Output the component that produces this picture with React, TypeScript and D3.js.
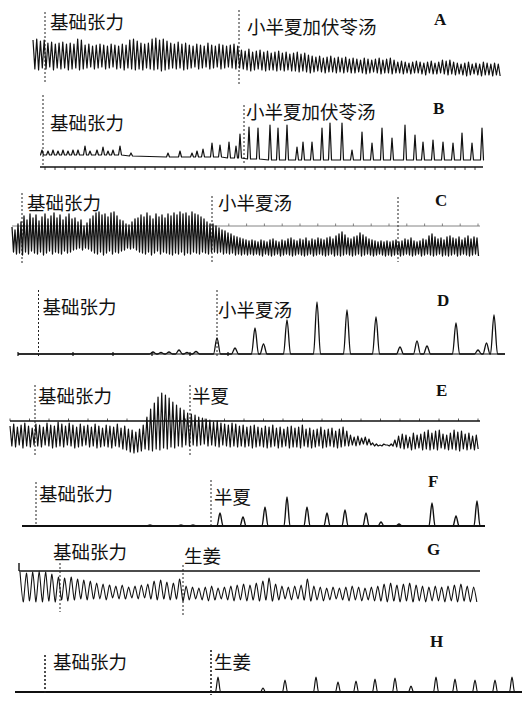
import React, { useEffect, useRef } from 'react';
import * as d3 from 'd3';

const W = 530;
const H = 701;

// time axis: 1 unit = 10 px of chart paper
// tension values: 1 unit = 1 px above each panel's zero line

// A: 小半夏加伏苓汤 (per-cycle peak / trough)
const aTop = [40, 41, 39, 40, 37, 38, 36, 37, 38, 36, 37, 36, 41, 40, 35, 36, 34, 35, 36, 35, 34, 36, 35, 34, 36, 35,
  40, 41, 39, 37, 36, 37, 41, 42, 40, 41, 39, 37, 36, 38, 36, 37, 35, 34, 36, 35, 34, 37, 35, 34, 36, 35, 34, 35, 36, 34,
  30, 29, 31, 28, 29, 30, 28, 29, 27, 28, 29, 27, 28, 26,
  27, 28, 26, 27, 25, 24, 23, 24, 22, 23, 24, 22, 23, 22,
  23, 21, 22, 21, 20, 22, 21, 20, 21, 22, 20, 21, 22, 20,
  18, 19, 18, 17, 18, 19, 18, 17, 18, 19, 17, 18, 20, 19,
  20, 18, 17, 16, 17, 18, 16, 17, 16, 18, 17, 16, 17, 16];
const aBot = [11, 10, 12, 11, 13, 10, 12, 11, 12, 10, 11, 12, 10, 11,
  12, 13, 11, 12, 13, 11, 12, 13, 11, 12, 10, 12, 11, 10,
  11, 10, 12, 11, 10, 11, 9, 10, 11, 12, 11, 12, 10, 11,
  12, 13, 11, 12, 13, 11, 12, 13, 11, 12, 13, 12, 11, 12,
  11, 10, 9, 10, 11, 10, 9, 10, 10, 9, 10, 9, 10, 9,
  9, 8, 9, 8, 7, 8, 9, 8, 7, 8, 8, 7, 8, 7,
  8, 7, 7, 8, 7, 6, 7, 8, 7, 6, 7, 7, 6, 7,
  7, 6, 7, 6, 7, 7, 6, 5, 7, 6, 6, 7, 6, 5,
  6, 5, 6, 5, 4, 5, 6, 5, 4, 5, 5, 4, 5, 4];
const aSpan = [3.3, 50.2];
const aMarks = [4.5, 23.9];
const aLabels = ['基础张力', '小半夏加伏苓汤'];

// B: spikes (time, peak, local baseline)
const bTimes = [4.2, 4.8, 5.3, 5.8, 6.3, 6.8, 7.3, 7.8, 8.5, 9.0, 9.7, 10.3, 10.8, 11.3, 12.0, 13.1,
  16.8, 18.0, 19.2, 19.7, 20.3, 21.2, 22.0, 22.9, 23.6, 24.0, 24.9, 25.8,
  27.0, 27.8, 28.7, 29.7, 30.3, 31.2, 32.2, 33.0, 34.2, 35.2, 36.2, 37.2, 38.2, 39.2,
  40.5, 41.5, 42.3, 43.3, 44.3, 45.3, 46.2, 47.2, 48.2];
const bPeaks = [17, 16, 17, 16, 17, 16, 17, 17, 21, 16, 17, 20, 16, 17, 21, 14,
  14, 16, 14, 16, 18, 24, 22, 25, 21, 33, 40, 39,
  42, 39, 42, 20, 25, 25, 39, 44, 44, 17, 35, 24, 39, 29,
  42, 32, 25, 27, 25, 24, 34, 24, 39];
const bBase = [12, 12, 12, 12, 12, 12, 12, 12, 12, 12, 12, 12, 12, 12, 12, 11,
  10, 10, 10, 10, 10, 10, 10, 9, 9, 9, 8, 8,
  7, 7, 7, 7, 7, 7, 7, 7, 7, 7, 7, 7, 7, 7,
  7, 7, 7, 7, 7, 7, 7, 7, 7];
const bSpan = [4.0, 48.3];
const bMarks = [4.3, 24.4];
const bLabels = ['基础张力', '小半夏加伏苓汤'];

// C: 小半夏汤
const cTop = [33, 30, 36, 38, 44, 40, 46, 42, 45, 39, 43, 46, 41, 44, 47, 42, 45, 40, 43, 46, 41,
  42, 38, 40, 34, 37, 41, 44, 47, 48, 45, 46, 43, 47, 48, 44, 40, 39, 36, 35, 38, 41, 42,
  45, 43, 47, 44, 41, 46, 43, 45, 42, 46, 44, 47, 45, 48, 46, 47, 44, 48, 46, 45, 43, 41, 38, 36,
  36, 34, 32, 30, 29, 27, 26, 24, 23, 22, 21, 20, 19, 20,
  19, 18, 20, 19, 18, 20, 21, 19, 18, 20, 19, 21, 22, 20, 19,
  21, 20, 22, 19, 21, 20, 22, 21, 20, 22, 23, 21, 24, 26, 28,
  25, 22, 21, 23, 24, 27, 25, 23, 21, 20, 19, 18, 19, 18, 19,
  18, 19, 20, 18, 19, 21, 20, 22, 19, 18, 19, 21, 20, 24, 26,
  23, 21, 22, 20, 23, 24, 22, 21, 23, 20, 22, 24, 21, 23, 22];
const cBot = [8, 6, 7, 5, 8, 6, 9, 7, 6, 8, 5, 7, 9, 6, 8, 7, 6,
  9, 7, 8, 10, 11, 12, 10, 12, 11, 9, 7, 6, 8, 5, 7, 9, 6,
  8, 7, 9, 10, 12, 11, 12, 10, 8, 7, 6, 8, 5, 7, 9, 6, 8,
  7, 6, 5, 7, 6, 8, 5, 7, 6, 8, 7, 6, 8, 7, 6, 8,
  8, 7, 8, 6, 7, 6, 7, 5, 6, 5, 6, 5, 6, 5,
  6, 5, 4, 6, 5, 4, 5, 6, 4, 5, 6, 5, 4, 5, 6,
  5, 4, 5, 6, 4, 5, 6, 5, 4, 5, 6, 4, 5, 4, 5,
  6, 5, 4, 5, 6, 4, 5, 6, 5, 4, 5, 6, 5, 4, 5,
  4, 5, 6, 4, 5, 6, 5, 4, 5, 6, 4, 5, 6, 5, 4,
  5, 6, 4, 5, 4, 5, 6, 4, 5, 6, 5, 4, 5, 6, 4];
const cSpan = [1.2, 48.0];
const cMarks = [2.2, 21.2, 39.8];
const cLabels = ['基础张力', '小半夏汤'];

// D: broad contractions
const dTimes = [15.3, 16.1, 16.9, 17.9, 18.7, 19.6, 21.7, 23.5, 25.5, 26.35, 28.7, 31.7, 34.7, 37.6,
  40.0, 41.7, 42.7, 45.6, 47.8, 48.65, 49.4];
const dPeaks = [2, 1.5, 2, 4, 1.5, 2.5, 16, 6, 26, 10, 34, 52, 44, 37, 7, 13, 8, 31, 4, 11, 39];
const dSpan = [1.8, 50.5];
const dTicks = [1.8, 7.3, 11.3, 15.2, 19.0, 22.8];
const dMarks = [3.85, 21.7];
const dLabels = ['基础张力', '小半夏汤'];

// E: 半夏
const eTop = [29, 31, 28, 30, 32, 29, 27, 31, 30, 28, 32, 30, 29,
  33, 31, 29, 32, 30, 28, 31, 29, 30, 28, 31, 29, 27,
  30, 29, 28, 31, 27, 29, 26, 25, 23,
  26, 30, 38, 46, 52, 58, 62, 60, 57, 53, 50, 47, 45, 42,
  41, 40, 38, 37, 36, 35, 33, 34, 32, 31, 30, 32, 31, 29,
  30, 28, 29, 30, 28, 27, 29, 28, 30, 27, 28, 26, 28, 29,
  27, 28, 30, 26, 27, 25, 26, 28, 25, 26, 27, 24, 26, 28,
  24, 20, 18, 19, 17, 18, 16, 12, 11, 10, 11, 10, 11, 15,
  19, 21, 20, 18, 22, 20, 21, 23, 25, 22, 24, 25, 21, 20,
  22, 25, 23, 24, 21, 22, 19, 20];
const eBot = [9, 8, 10, 7, 9, 8, 10, 9, 8, 10, 9, 7, 8,
  9, 8, 10, 9, 7, 8, 9, 10, 8, 9, 7, 8, 9,
  8, 7, 9, 8, 6, 5, 3, 2, 3,
  4, 6, 5, 4, 6, 5, 7, 6, 8, 7, 9, 8, 10, 9,
  10, 9, 10, 11, 9, 10, 9, 8, 10, 9, 8, 9, 8, 9,
  8, 9, 7, 8, 9, 8, 7, 8, 9, 7, 8, 9, 7, 8,
  8, 7, 9, 8, 7, 8, 9, 7, 8, 9, 8, 7, 8, 9,
  9, 10, 9, 10, 11, 10, 10, 9, 9, 9, 10, 9, 9, 8,
  7, 6, 7, 5, 6, 7, 5, 6, 5, 6, 5, 7, 6, 5,
  6, 5, 4, 6, 5, 6, 5, 6];
const eSpan = [1.0, 48.0];
const eMarks = [3.5, 19.0];
const eLabels = ['基础张力', '半夏'];

// F: 半夏
const fTimes = [15.0, 18.1, 19.3, 22.0, 24.3, 26.5, 28.7, 30.7, 32.7, 34.5, 36.6, 38.1, 39.9, 43.2, 45.6, 47.7];
const fPeaks = [1, 1, 1, 13, 9, 19, 29, 19, 13, 16, 13, 4, 2, 23, 10, 25];
const fSpan = [2.2, 48.5];
const fMarks = [3.6, 21.1];
const fLabels = ['基础张力', '半夏'];

// G: 生姜
const gTop = [33, 32, 33, 34, 33, 31, 28, 27, 28, 26, 25, 24, 22, 21, 20, 19, 20, 18,
  19, 20, 21, 24, 25, 23, 22, 26,
  19, 18, 17, 18, 19, 17, 18, 19, 20, 21,
  20, 22, 24, 27, 21, 19, 18, 19, 20, 26,
  19, 18, 17, 18, 17, 18, 19, 18, 17, 18,
  19, 21, 22, 20, 21, 22, 20, 19, 18, 19,
  18, 19, 20, 21, 19, 18];
const gBot = [3, 4, 3, 3, 4, 3, 5, 4, 5, 6, 5, 6, 6, 5, 7, 6, 6, 7,
  6, 7, 6, 5, 6, 5, 6, 4,
  5, 6, 5, 4, 5, 6, 5, 4, 5, 4,
  5, 4, 5, 4, 5, 6, 5, 6, 5, 4,
  5, 4, 5, 6, 5, 4, 5, 4, 5, 4,
  4, 3, 4, 3, 4, 3, 4, 3, 4, 4,
  3, 4, 3, 4, 3, 3];
const gSpan = [2.0, 48.0];
const gMarks = [6.0, 18.3];
const gLabels = ['基础张力', '生姜'];

// H: 生姜
const hTimes = [21.8, 26.3, 28.5, 31.6, 33.8, 35.6, 37.5, 39.5, 41.1, 43.6, 45.5, 47.5, 49.5, 51.2];
const hPeaks = [15, 4, 12, 15, 10, 11, 13, 14, 6, 15, 13, 12, 12, 15];
const hSpan = [1.5, 52.2];
const hMarks = [4.5, 21.1];
const hLabels = ['基础张力', '生姜'];

const panelLetters = ['A', 'B', 'C', 'D', 'E', 'F', 'G', 'H'];

const App = () => {
  const svgRef = useRef<SVGSVGElement>(null);

  useEffect(() => {
    const svg = d3.select(svgRef.current);
    svg.selectAll('*').remove();
    svg.append('rect').attr('width', W).attr('height', H).attr('fill', '#fff');

    const x = d3.scaleLinear().domain([0, 53]).range([0, W]);
    const yAt = (zero: number) => d3.scaleLinear().domain([0, 100]).range([zero, zero - 100]);

    const oscPoints = (top: number[], bot: number[], span: number[]) => {
      const dt = (span[1] - span[0]) / top.length;
      const pts: [number, number][] = [];
      top.forEach((v, i) => {
        pts.push([span[0] + i * dt, v]);
        pts.push([span[0] + (i + 0.5) * dt, bot[i]]);
      });
      return pts;
    };

    const spikePoints = (times: number[], peaks: number[], base: number[] | number, span: number[], w: number) => {
      const b = (i: number) => (Array.isArray(base) ? base[i] : base);
      const pts: [number, number][] = [[span[0], b(0)]];
      times.forEach((t, i) => {
        pts.push([t - w, b(i)], [t, peaks[i]], [t + w, b(i)]);
      });
      pts.push([span[1], b(times.length - 1)]);
      return pts;
    };

    const panels = [
      { zero: 80, pts: oscPoints(aTop, aBot, aSpan), curve: d3.curveLinear, sw: 1.2,
        marks: aMarks, markY: [[12, 84], [10, 84]], labels: aLabels, labelDx: [5, 8], labelY: [29, 34], letter: [434, 25] },
      { zero: 167, pts: spikePoints(bTimes, bPeaks, bBase, bSpan, 0.15), curve: d3.curveLinear, sw: 1.2,
        marks: bMarks, markY: [[95, 167], [105, 165]], labels: bLabels, labelDx: [7, 2], labelY: [130, 119], letter: [433, 114] },
      { zero: 260, pts: oscPoints(cTop, cBot, cSpan), curve: d3.curveLinear, sw: 1.3,
        marks: cMarks, markY: [[193, 263], [196, 262], [197, 262]], labels: cLabels, labelDx: [5, 6], labelY: [210, 210], letter: [435, 206] },
      { zero: 354, pts: spikePoints(dTimes, dPeaks, 0, dSpan, 0.35), curve: d3.curveMonotoneX, sw: 1.3,
        marks: dMarks, markY: [[290, 356], [290, 356]], labels: dLabels, labelDx: [4, 1], labelY: [314, 317], letter: [437, 306] },
      { zero: 455, pts: oscPoints(eTop, eBot, eSpan), curve: d3.curveLinear, sw: 1.2,
        marks: eMarks, markY: [[385, 455], [385, 455]], labels: eLabels, labelDx: [3, 2], labelY: [403, 403], letter: [436, 396] },
      { zero: 526, pts: spikePoints(fTimes, fPeaks, 0, fSpan, 0.3), curve: d3.curveMonotoneX, sw: 1.4,
        marks: fMarks, markY: [[482, 526], [480, 526]], labels: fLabels, labelDx: [3, 3], labelY: [501, 504], letter: [428, 487] },
      { zero: 605, pts: oscPoints(gTop, gBot, gSpan), curve: d3.curveCardinal.tension(0.3), sw: 1.1,
        marks: gMarks, markY: [[563, 612], [565, 615]], labels: gLabels, labelDx: [-7, 1], labelY: [559, 563], letter: [427, 555] },
      { zero: 692, pts: spikePoints(hTimes, hPeaks, 0, hSpan, 0.25), curve: d3.curveMonotoneX, sw: 1.2,
        marks: hMarks, markY: [[655, 695], [650, 695]], labels: hLabels, labelDx: [8, 3], labelY: [669, 669], letter: [430, 647] },
    ];

    // reference lines and time markers drawn behind the traces
    const ref = svg.append('g').attr('stroke', '#111');
    ref.append('line').attr('x1', x(4.0)).attr('x2', x(48.3)).attr('y1', 167).attr('y2', 167).attr('stroke-width', 1.6);
    ref.selectAll('.bt').data(d3.range(4.5, 48.3, 1)).join('line')
      .attr('x1', d => x(d)).attr('x2', d => x(d)).attr('y1', 167).attr('y2', 170).attr('stroke-width', 0.8);
    ref.append('line').attr('x1', x(cSpan[0])).attr('x2', x(cSpan[1])).attr('y1', 226).attr('y2', 226)
      .attr('stroke', '#666').attr('stroke-width', 0.8);
    ref.selectAll('.ct').data(d3.range(21.1, 48.1, 1.78)).join('line')
      .attr('x1', d => x(d)).attr('x2', d => x(d)).attr('y1', 223.5).attr('y2', 226).attr('stroke', '#666').attr('stroke-width', 0.8);
    ref.append('line').attr('x1', x(dSpan[0])).attr('x2', x(dSpan[1])).attr('y1', 354).attr('y2', 354).attr('stroke-width', 1.2);
    ref.selectAll('.dt').data(dTicks).join('line')
      .attr('x1', d => x(d)).attr('x2', d => x(d)).attr('y1', 352).attr('y2', 356).attr('stroke-width', 1.2);
    ref.append('line').attr('x1', x(eSpan[0])).attr('x2', x(eSpan[1])).attr('y1', 421).attr('y2', 421).attr('stroke-width', 1.4);
    ref.selectAll('.et').data(d3.range(1.0, 48.0, 1.95)).join('line')
      .attr('x1', d => x(d)).attr('x2', d => x(d)).attr('y1', 418.5).attr('y2', 421).attr('stroke-width', 0.7);
    ref.append('line').attr('x1', x(fSpan[0])).attr('x2', x(fSpan[1])).attr('y1', 526).attr('y2', 526).attr('stroke-width', 2);
    ref.append('line').attr('x1', x(1.9)).attr('x2', x(gSpan[1])).attr('y1', 571).attr('y2', 571).attr('stroke-width', 1.4);
    ref.append('line').attr('x1', x(1.9)).attr('x2', x(1.9)).attr('y1', 563).attr('y2', 571).attr('stroke-width', 1.4);
    ref.append('line').attr('x1', x(hSpan[0])).attr('x2', x(hSpan[1])).attr('y1', 692).attr('y2', 692).attr('stroke-width', 2);

    panels.forEach((p, k) => {
      const y = yAt(p.zero);
      const g = svg.append('g');

      g.selectAll('.mark').data(p.marks).join('line')
        .attr('x1', d => x(d)).attr('x2', d => x(d))
        .attr('y1', (d, i) => p.markY[i][0]).attr('y2', (d, i) => p.markY[i][1])
        .attr('stroke', '#222').attr('stroke-width', k === 7 ? 1.6 : 1)
        .attr('stroke-dasharray', '2,2');

      const line = d3.line<[number, number]>().x(d => x(d[0])).y(d => y(d[1])).curve(p.curve);
      g.append('path').attr('d', line(p.pts))
        .attr('fill', 'none').attr('stroke', '#111').attr('stroke-width', p.sw)
        .attr('stroke-linejoin', 'round');

      g.selectAll('.lab').data(p.labels).join('text')
        .attr('x', (d, i) => x(p.marks[i]) + p.labelDx[i])
        .attr('y', (d, i) => p.labelY[i])
        .attr('font-family', '"Noto Sans CJK SC", sans-serif')
        .attr('font-size', 18.5).attr('fill', '#111')
        .text(d => d);

      g.append('text').attr('x', p.letter[0]).attr('y', p.letter[1])
        .attr('font-family', '"Liberation Serif", serif').attr('font-weight', 'bold')
        .attr('font-size', 17).attr('fill', '#111')
        .text(panelLetters[k]);
    });
  }, []);

  return (
    <svg ref={svgRef} width={W} height={H} style={{ position: 'absolute', left: 0, top: 0 }}></svg>
  );
};

export default App;
